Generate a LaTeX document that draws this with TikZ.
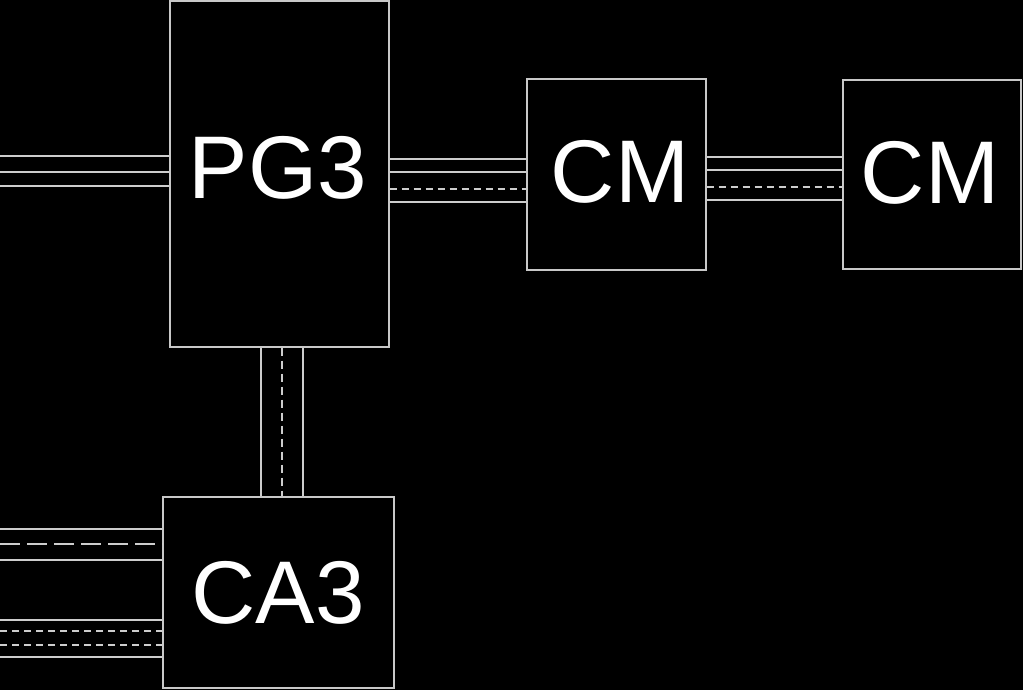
\documentclass[tikz,border=0pt]{standalone}
\usepackage{fontspec}
\setmainfont{Liberation Sans}
\begin{document}
\begin{tikzpicture}[x=1pt,y=-1pt,
  box/.style={draw=boxgray,line width=1.2pt,fill=black,inner sep=0pt},
  lbl/.style={text=white,font=\fontsize{89}{89}\selectfont,inner sep=0pt,anchor=base},
  wire/.style={draw=linegray,line width=1.3pt},
  shortdash/.style={wire,dash pattern=on 7pt off 5pt},
  longdash/.style={wire,dash pattern=on 20pt off 7pt}]
\definecolor{boxgray}{RGB}{200,200,200}
\definecolor{linegray}{RGB}{205,205,205}
\fill[black] (0,0) rectangle (1023,690);
\useasboundingbox (0,0) rectangle (1023,690);
% wires first
\coordinate (L1) at (0,0);
\coordinate (L2) at (0,0);
% boxes
\node[box,minimum width=219pt,minimum height=346pt] (pg) at (279.5,174) {};
\node[box,minimum width=179pt,minimum height=191pt] (cma) at (616.5,174.5) {};
\node[box,minimum width=178pt,minimum height=189pt] (cmb) at (932,174.5) {};
\node[box,minimum width=231pt,minimum height=191pt] (ca) at (278.5,592.5) {};
% left wires at PG3
\coordinate (lp) at (0,172);
\draw[wire] (lp |- 0,156) -- (pg.west |- 0,156);
\draw[wire] (lp |- 0,172) -- (pg.west |- 0,172);
\draw[wire] (lp |- 0,186) -- (pg.west |- 0,186);
% PG3 -- CM
\draw[wire] (pg.east |- 0,159) -- (cma.west |- 0,159);
\draw[wire] (pg.east |- 0,172) -- (cma.west |- 0,172);
\draw[shortdash] (pg.east |- 0,189) -- (cma.west |- 0,189);
\draw[wire] (pg.east |- 0,202) -- (cma.west |- 0,202);
% CM -- CM
\draw[wire] (cma.east |- 0,157) -- (cmb.west |- 0,157);
\draw[wire] (cma.east |- 0,170) -- (cmb.west |- 0,170);
\draw[shortdash] (cma.east |- 0,187) -- (cmb.west |- 0,187);
\draw[wire] (cma.east |- 0,200) -- (cmb.west |- 0,200);
\draw[wire] (cmb.west |- 0,157) -- (cmb.west |- 0,200);
% PG3 -- CA3
\draw[wire] (pg.south -| 261,0) -- (ca.north -| 261,0);
\draw[shortdash,dash pattern=on 8pt off 5pt] (pg.south -| 282,0) -- (ca.north -| 282,0);
\draw[wire] (pg.south -| 303,0) -- (ca.north -| 303,0);
% left wires at CA3
\coordinate (lc) at (0,590);
\draw[wire] (lc |- 0,529) -- (ca.west |- 0,529);
\draw[longdash] (lc |- 0,544) -- (ca.west |- 0,544);
\draw[wire] (lc |- 0,560) -- (ca.west |- 0,560);
\draw[wire] (lc |- 0,620) -- (ca.west |- 0,620);
\draw[shortdash] (lc |- 0,631) -- (ca.west |- 0,631);
\draw[shortdash] (lc |- 0,645) -- (ca.west |- 0,645);
\draw[wire] (lc |- 0,657) -- (ca.west |- 0,657);
% labels
\node[lbl] (tpg) at (278,198) {PG3};
\node[lbl] (tcma) at (620,202) {CM};
\node[lbl] (tcmb) at (930,203) {CM};
\node[lbl] (tca) at (278,623) {CA3};
\end{tikzpicture}
\end{document}
